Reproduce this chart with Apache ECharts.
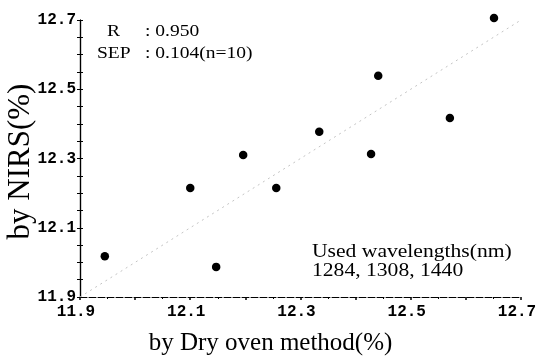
<!DOCTYPE html>
<html>
<head>
<meta charset="utf-8">
<script src="https://cdn.jsdelivr.net/npm/echarts@6/dist/echarts.min.js"></script>
<style>
  html, body { margin: 0; padding: 0; background: #fff; }
  #chart { width: 536px; height: 359px; }
</style>
</head>
<body>
<div id="chart"></div>
<script>
// values
const dryOven = [11.945, 12.1, 12.147, 12.196, 12.256, 12.334, 12.428, 12.441, 12.571, 12.651];
const nirs = [12.018, 12.215, 11.987, 12.31, 12.215, 12.377, 12.313, 12.539, 12.417, 12.706];
const axisMin = 11.9;
const axisMax = 12.7;
const xTickLabels = ["11.9", "12.1", "12.3", "12.5", "12.7"];
const statNames = ["R", "SEP"];
const statValues = [": 0.950", ": 0.104(n=10)"];
const wavelengthLines = ["Used wavelengths(nm)", "1284, 1308, 1440"];

const points = dryOven.map((x, i) => [x, nirs[i]]);
const serif = "'Liberation Serif', 'DejaVu Serif', serif";
const tickFont = { color: "#000", fontFamily: "'Liberation Mono', 'DejaVu Sans Mono', monospace", fontWeight: "bold", fontSize: 16 };

const chart = echarts.init(document.getElementById("chart"));

const baseY = {
  type: "value",
  min: axisMin,
  max: axisMax,
  interval: 0.2,
  splitLine: { show: false },
  axisLine: { show: true, lineStyle: { color: "#000", width: 1.2 } },
  minorTick: { show: true, splitNumber: 4, length: 3, lineStyle: { color: "#000" } },
};

// scan text is a bit stretched sideways, so the notes get scaleX
const note = (text, x, y, size, lineHeight, sx) => ({
  type: "text", x: x, y: y, scaleX: sx,
  style: { text: text, font: size + "px " + serif, fill: "#000", lineHeight: lineHeight, verticalAlign: "top" },
});

chart.setOption({
  backgroundColor: "#fff",
  animation: false,
  grid: { left: 80, right: 15, top: 20, bottom: 62, outerBoundsMode: "none" },
  xAxis: {
    type: "value",
    min: axisMin,
    max: axisMax,
    interval: 0.1,
    name: "by Dry oven method(%)",
    nameLocation: "middle",
    nameGap: 34,
    nameTextStyle: { color: "#000", fontFamily: serif, fontSize: 25, padding: [0, 60, 0, 0] },
    splitLine: { show: false },
    axisLine: { lineStyle: { color: "#000", width: 1, type: [7, 2] } },
    axisTick: { length: 3, lineStyle: { color: "#000", width: 1.5 } },
    minorTick: { show: true, splitNumber: 2, length: 2, lineStyle: { color: "#000" } },
    axisLabel: {
      ...tickFont,
      margin: 7,
      padding: [0, 8, 0, 0],
      formatter: (v) => {
        const s = v.toFixed(1);
        return xTickLabels.includes(s) ? s : "";
      },
    },
  },
  yAxis: [
    {
      ...baseY,
      name: "by NIRS(%)",
      nameLocation: "middle",
      nameGap: 44,
      nameMoveOverlap: false,
      nameTextStyle: { color: "#000", fontFamily: serif, fontSize: 31, padding: [0, 6, 0, 0] },
      axisTick: { length: 3, lineStyle: { color: "#000" } },
      axisLabel: { ...tickFont, margin: 4, formatter: (v) => v.toFixed(1) },
    },
    {
      ...baseY,
      position: "left",
      axisTick: { inside: true, length: 3, lineStyle: { color: "#000" } },
      axisLabel: { show: false },
    },
  ],
  graphic: [
    note(statNames[0], 107, 22, 16, 20, 1.22),
    note(statNames[1], 97, 44, 16, 20, 1.22),
    note(statValues[0], 145, 22, 16, 20, 1.22),
    note(statValues[1], 145, 44, 16, 20, 1.22),
    note(wavelengthLines.join("\n"), 312, 243, 18, 19, 1.2),
  ],
  series: [
    {
      type: "line",
      data: [[axisMin, axisMin], [axisMax, axisMax]],
      symbol: "none",
      silent: true,
      lineStyle: { color: "#c4c4c4", width: 1, type: [2, 4] },
    },
    {
      type: "scatter",
      data: points,
      clip: false,
      symbol: "circle",
      symbolSize: 8.5,
      itemStyle: { color: "#000", opacity: 1 },
    },
  ],
});
</script>
</body>
</html>
